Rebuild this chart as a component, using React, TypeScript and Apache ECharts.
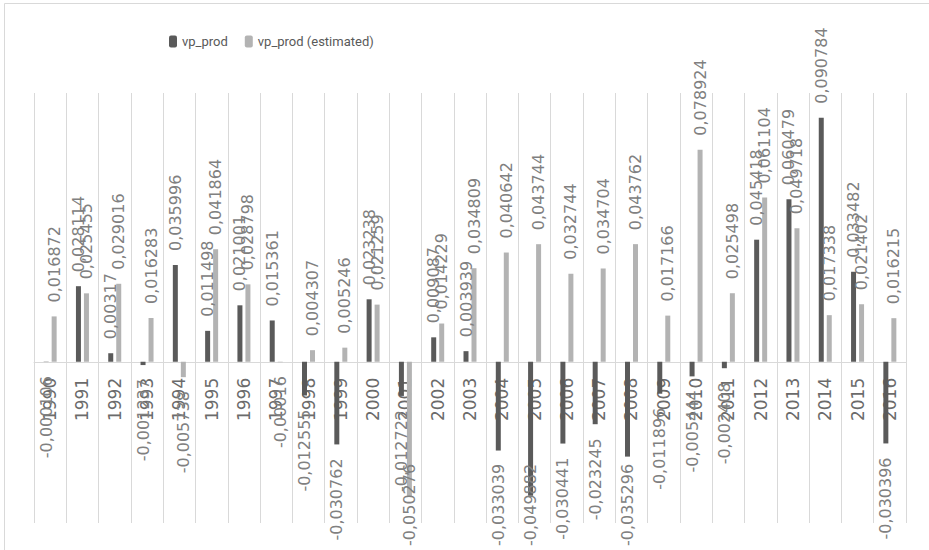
import React, { useEffect, useRef } from "react";
import * as echarts from "echarts";

// Years on the category axis
const years = [
  "1990", "1991", "1992", "1993", "1994", "1995", "1996", "1997", "1998",
  "1999", "2000", "2001", "2002", "2003", "2004", "2005", "2006", "2007",
  "2008", "2009", "2010", "2011", "2012", "2013", "2014", "2015", "2016",
];

// Observed productivity growth
const vpProd = [
  -0.000106, 0.028114, 0.00317, -0.001237, 0.035996, 0.011498, 0.021001,
  0.015361, -0.012555, -0.030762, 0.023238, -0.012722, 0.009087, 0.003939,
  -0.033039, -0.049882, -0.030441, -0.023245, -0.035296, -0.011896,
  -0.005444, -0.002408, 0.045418, 0.060479, 0.090784, 0.033482, -0.030396,
];

// Estimated productivity growth
const vpProdEstimated = [
  0.016872, 0.025455, 0.029016, 0.016283, -0.005738, 0.041864, 0.028798,
  -0.00016, 0.004307, 0.005246, 0.021259, -0.050276, 0.014229, 0.034809,
  0.040642, 0.043744, 0.032744, 0.034704, 0.043762, 0.017166, 0.078924,
  0.025498, 0.061104, 0.049718, 0.017338, 0.021402, 0.016215,
];

const seriesNames = ["vp_prod", "vp_prod (estimated)"];
const seriesColors = ["#5a5a5a", "#b3b3b3"];

const labelFont = "'DejaVu Sans', sans-serif";
const labelSize = 16;
const labelDistance = 14;
const gridColor = "#d9d9d9";
const labelFloor = 546; // lowest y a value label may reach

// Decimal comma, as in the source workbook
const formatValue = (v: number) => String(v).replace(".", ",");

let measureCtx: CanvasRenderingContext2D | null = null;
function textWidth(s: string) {
  if (!measureCtx) measureCtx = document.createElement("canvas").getContext("2d");
  if (!measureCtx) return s.length * labelSize * 0.6;
  measureCtx.font = `${labelSize}px ${labelFont}`;
  return measureCtx.measureText(s).width;
}

// Value labels sit past the end of each bar, reading upward. `shift`
// pulls a label back up (in its rotated frame) when it would run off the chart.
function withLabels(values: number[], shift: number[]) {
  return values.map((v, i) => ({
    value: v,
    label: {
      position: v >= 0 ? "top" : "bottom",
      align: v >= 0 ? "left" : "right",
      verticalAlign: "middle",
      offset: [shift[i] || 0, 0],
    },
  }));
}

function makeSeries(name: string, color: string, values: number[], shift: number[]) {
  return {
    name,
    type: "bar",
    xAxisIndex: 0,
    barWidth: 5,
    barGap: "60%",
    itemStyle: { color },
    label: {
      show: true,
      rotate: 90,
      distance: labelDistance,
      fontSize: labelSize,
      fontFamily: labelFont,
      color: "#808080",
      formatter: (p: any) => formatValue(p.value),
    },
    data: withLabels(values, shift),
  };
}

export default function App() {
  const ref = useRef<HTMLDivElement>(null);

  useEffect(() => {
    if (!ref.current) return;
    const chart = echarts.init(ref.current, undefined, { renderer: "svg" });
    const gridBottom = 27;
    const noShift = years.map(() => 0);
    chart.setOption({
      animation: false,
      backgroundColor: "#ffffff",
      graphic: [
        {
          type: "rect",
          shape: { x: 4.5, y: 3.5, width: 940, height: 570 },
          style: { fill: "none", stroke: gridColor, lineWidth: 1 },
          silent: true,
          z: -10,
        },
      ],
      legend: {
        left: 164,
        top: 30,
        itemWidth: 8,
        itemHeight: 12,
        itemGap: 17,
        textStyle: {
          fontSize: 13,
          fontFamily: "Roboto, sans-serif",
          color: "#595959",
        },
        data: seriesNames.map((n, i) => ({
          name: n,
          itemStyle: { color: seriesColors[i] },
        })),
      },
      grid: { left: 34, right: 23, top: 93, bottom: gridBottom, outerBoundsMode: "none" },
      xAxis: [
        {
          // category bands and vertical gridlines
          type: "category",
          data: years,
          axisLine: { show: false, onZero: false },
          axisTick: { show: false, interval: 0 },
          axisLabel: { show: false, interval: 0 },
          splitLine: { show: true, interval: 0, lineStyle: { color: gridColor, width: 1 } },
        },
        {
          // baseline and year labels, shifted up to the zero value
          type: "category",
          data: years,
          position: "bottom",
          offset: 0,
          axisLine: { show: true, onZero: false, lineStyle: { color: gridColor, width: 1 } },
          axisTick: { show: false },
          splitLine: { show: false },
          axisLabel: {
            interval: 0,
            rotate: 90,
            margin: 16,
            fontSize: 17,
            fontFamily: labelFont,
            color: "#6b6b6b",
          },
        },
      ],
      yAxis: {
        type: "value",
        min: -0.06,
        max: 0.1,
        axisLine: { show: false },
        axisTick: { show: false },
        axisLabel: { show: false },
        splitLine: { show: false },
      },
      series: [
        makeSeries(seriesNames[0], seriesColors[0], vpProd, noShift),
        makeSeries(seriesNames[1], seriesColors[1], vpProdEstimated, noShift),
      ],
    });

    // place the labelled axis on the zero line of the value axis
    const zeroY = chart.convertToPixel({ yAxisIndex: 0 }, 0) as number;
    const bottomY = chart.getHeight() - gridBottom;

    // how far each label below a negative bar would pass the floor
    const shiftFor = (values: number[]) =>
      values.map((v) => {
        if (v >= 0) return 0;
        const end = chart.convertToPixel({ yAxisIndex: 0 }, v) as number;
        const over = end + labelDistance + textWidth(formatValue(v)) - labelFloor;
        return over > 0 ? over : 0;
      });

    chart.setOption({
      xAxis: [{}, { offset: -(bottomY - zeroY) }],
      series: [
        { data: withLabels(vpProd, shiftFor(vpProd)) },
        { data: withLabels(vpProdEstimated, shiftFor(vpProdEstimated)) },
      ],
    });

    return () => chart.dispose();
  }, []);

  return (
    <div
      ref={ref}
      style={{ position: "absolute", left: 0, top: 0, width: 929, height: 550 }}
    />
  );
}
